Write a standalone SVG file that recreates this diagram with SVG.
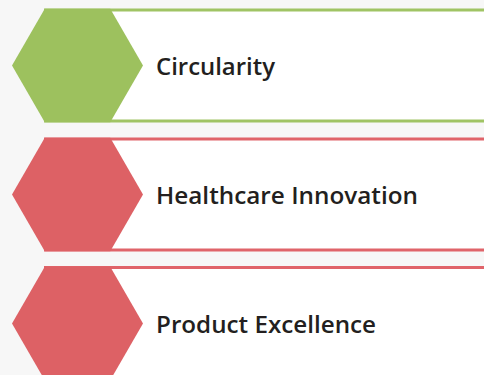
<svg xmlns="http://www.w3.org/2000/svg" width="484" height="375" viewBox="0 0 484 375">
  <style>
    .band { fill: #ffffff; }
    .rule { stroke-width: 2.8; fill: none; }
    .green .hex { fill: #9dc15e; }
    .green .rule { stroke: #a0c464; }
    .red .hex { fill: #dd6165; }
    .red .rule { stroke: #e0646a; }
    .label { font-family: "Open Sans", "Noto Sans", sans-serif; font-weight: 600; font-size: 23.5px; fill: #231f20; }
  </style>
  <defs>
    <!-- flat-topped hexagon, radius 65.5, centred on the origin -->
    <polygon id="hexShape" points="-65.5,0 -32.75,-56.7 32.75,-56.7 65.5,0 32.75,56.7 -32.75,56.7"/>
  </defs>
  <rect width="484" height="375" fill="#f7f7f7"/>

  <g id="circularity" class="green">
    <rect class="band" x="77.5" y="10" width="407" height="111"/>
    <line class="rule" x1="44" y1="10" x2="484" y2="10"/>
    <line class="rule" x1="44" y1="121" x2="484" y2="121"/>
    <use class="hex" href="#hexShape" x="77.5" y="65.5"/>
    <text class="label" x="156" y="75" textLength="119" lengthAdjust="spacingAndGlyphs">Circularity</text>
  </g>

  <g id="healthcare-innovation" class="red">
    <rect class="band" x="77.5" y="139" width="407" height="111"/>
    <line class="rule" x1="44" y1="139" x2="484" y2="139"/>
    <line class="rule" x1="44" y1="250" x2="484" y2="250"/>
    <use class="hex" href="#hexShape" x="77.5" y="194.5"/>
    <text class="label" x="156" y="204" textLength="262" lengthAdjust="spacingAndGlyphs">Healthcare Innovation</text>
  </g>

  <g id="product-excellence" class="red">
    <rect class="band" x="77.5" y="267.5" width="407" height="111"/>
    <line class="rule" x1="44" y1="267.5" x2="484" y2="267.5"/>
    <use class="hex" href="#hexShape" x="77.5" y="323.5"/>
    <text class="label" x="156" y="333" textLength="220" lengthAdjust="spacingAndGlyphs">Product Excellence</text>
  </g>

  <g id="connectors"/>
</svg>
